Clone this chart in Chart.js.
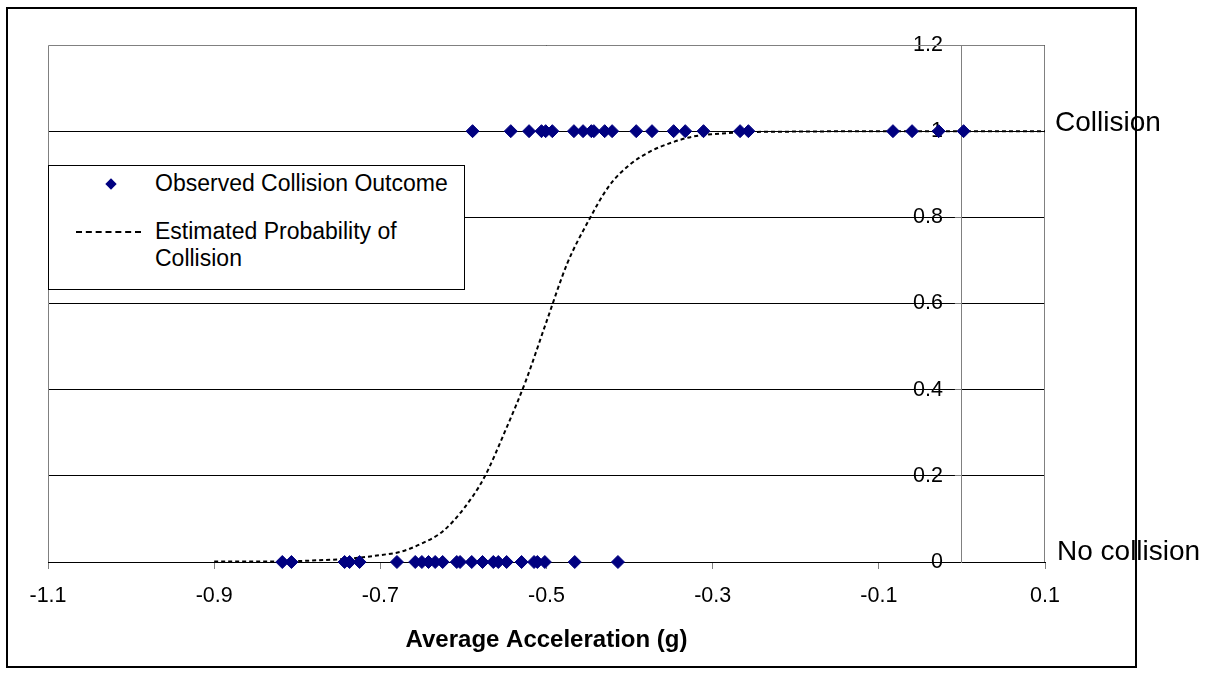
<!DOCTYPE html>
<html>
<head>
<meta charset="utf-8">
<script src="https://cdn.jsdelivr.net/npm/chart.js@4.4.1/dist/chart.umd.min.js"></script>
<style>
  html, body { margin: 0; padding: 0; background: #fff; }
  body { width: 1217px; height: 677px; position: relative; overflow: hidden; font-family: "Liberation Sans", Arial, sans-serif; }
  #frame { position: absolute; left: 6px; top: 7px; width: 1127px; height: 657px; border: 2px solid #000; }
  #chart { display: block; }
  .side-label { position: absolute; font-size: 28px; line-height: 28px; color: #000; white-space: nowrap; }
  #legend { position: absolute; left: 48px; top: 165px; width: 417px; height: 125px; box-sizing: border-box; border: 1px solid #000; background: #fff; }
  .legend-row { position: absolute; left: 0; right: 0; }
  .legend-text { position: absolute; left: 106px; font-size: 23px; line-height: 27px; color: #000; white-space: nowrap; }
  .legend-diamond { position: absolute; width: 8px; height: 8px; background: #000080; transform: rotate(45deg); }
  .legend-dash { position: absolute; height: 0; border-top: 2px dashed #000; }
</style>
</head>
<body>
<div id="frame"><canvas id="chart" width="1127" height="657"></canvas></div>
<div id="legend"></div>
<div class="side-label" style="left:1055px; top:108px;">Collision</div>
<div class="side-label" style="left:1057px; top:537px;">No collision</div>
<script>
const xTickValues = [-1.1, -0.9, -0.7, -0.5, -0.3, -0.1, 0.1];
const xTickLabels = ['-1.1', '-0.9', '-0.7', '-0.5', '-0.3', '-0.1', '0.1'];
const yTickValues = [0, 0.2, 0.4, 0.6, 0.8, 1, 1.2];
const yTickLabels = ['0', '0.2', '0.4', '0.6', '0.8', '1', '1.2'];

// observed outcomes: acceleration (g) for collisions (1) and non-collisions (0)
const collisionX = [-0.589, -0.543, -0.521, -0.506, -0.501, -0.493, -0.467, -0.456, -0.446, -0.443,
  -0.430, -0.421, -0.392, -0.373, -0.347, -0.333, -0.311, -0.267, -0.257, -0.083, -0.060, -0.028, 0.002];
const noCollisionX = [-0.818, -0.807, -0.743, -0.737, -0.725, -0.680, -0.658, -0.650, -0.642, -0.634,
  -0.625, -0.608, -0.604, -0.590, -0.577, -0.564, -0.558, -0.548, -0.530, -0.515, -0.511, -0.502, -0.466, -0.414];

// estimated probability curve
const curveX = [-0.9, -0.85, -0.8, -0.775, -0.75, -0.725, -0.7, -0.675, -0.65, -0.625, -0.6, -0.575, -0.55,
  -0.525, -0.5, -0.475, -0.45, -0.425, -0.4, -0.375, -0.35, -0.325, -0.3, -0.25, -0.2, -0.1, 0, 0.1];
const curveP = [0.001, 0.001, 0.002, 0.004, 0.006, 0.010, 0.016, 0.024, 0.043, 0.071, 0.123, 0.196, 0.303,
  0.42, 0.558, 0.693, 0.79, 0.872, 0.922, 0.953, 0.973, 0.987, 0.993, 0.998, 0.999, 1, 1, 1];

const seriesLabels = ['Observed Collision Outcome', 'Estimated Probability of Collision'];
const yAxisCrossing = 0;

const observed = collisionX.map((x) => ({ x, y: 1 })).concat(noCollisionX.map((x) => ({ x, y: 0 })));
const curve = curveX.map((x, i) => ({ x, y: curveP[i] }));

// y axis sits at x = 0 instead of the left edge
const crossAxis = {
  id: 'crossAxis',
  afterLayout(chart) {
    const px = chart.scales.x.getPixelForValue(yAxisCrossing);
    chart.scales.y.left = 0;
    chart.scales.y.right = px;
  },
};

const plotBorder = {
  id: 'plotBorder',
  beforeDatasetsDraw(chart) {
    const { ctx, chartArea: a } = chart;
    ctx.save();
    ctx.strokeStyle = '#808080';
    ctx.lineWidth = 1;
    ctx.beginPath();
    ctx.moveTo(a.left + 0.5, a.bottom);
    ctx.lineTo(a.left + 0.5, a.top + 0.5);
    ctx.lineTo(a.right - 0.5, a.top + 0.5);
    ctx.lineTo(a.right - 0.5, a.bottom);
    ctx.stroke();
    ctx.restore();
  },
};

Chart.defaults.font.family = '"Liberation Sans", Arial, sans-serif';
Chart.defaults.color = '#000';

const chart = new Chart(document.getElementById('chart'), {
  type: 'scatter',
  data: {
    datasets: [{
      label: seriesLabels[0],
      data: observed,
      pointStyle: 'rectRot',
      pointRadius: 6.5,
      pointHoverRadius: 6.5,
      backgroundColor: '#000080',
      borderColor: '#000080',
      borderWidth: 1,
      clip: false,
    }, {
      label: seriesLabels[1],
      data: curve,
      showLine: true,
      borderColor: '#000',
      borderWidth: 2,
      borderDash: [4, 3],
      pointRadius: 0,
      cubicInterpolationMode: 'monotone',
      clip: false,
    }],
  },
  options: {
    responsive: false,
    animation: false,
    events: [],
    layout: { padding: { left: 40, top: 36, right: 90, bottom: 0 } },
    plugins: { legend: { display: false }, tooltip: { enabled: false } },
    scales: {
      x: {
        type: 'linear',
        position: 'bottom',
        min: -1.1,
        max: 0.1,
        afterBuildTicks: (scale) => { scale.ticks = xTickValues.map((value) => ({ value })); },
        afterFit: (scale) => { scale.height = 104; },
        ticks: {
          font: { size: 21.5 },
          padding: 14,
          maxRotation: 0,
          callback: (value, index) => xTickLabels[index],
        },
        grid: { drawOnChartArea: false, drawTicks: true, tickLength: 7, tickColor: '#808080' },
        border: { color: '#000', width: 1 },
        title: {
          display: true,
          text: 'Average Acceleration (g)',
          font: { size: 24, weight: 'bold' },
          padding: { top: 4, bottom: 11 },
        },
      },
      y: {
        type: 'linear',
        position: 'left',
        min: 0,
        max: 1.2,
        afterBuildTicks: (scale) => { scale.ticks = yTickValues.map((value) => ({ value })); },
        afterFit: (scale) => { scale.width = 0; },
        ticks: {
          font: { size: 21.5 },
          padding: 12,
          callback: (value, index) => yTickLabels[index],
        },
        grid: { color: '#000', lineWidth: 1, tickLength: 7, tickColor: '#808080' },
        border: { color: '#808080', width: 1 },
      },
    },
  },
  plugins: [crossAxis, plotBorder],
});

// boxed legend inside the plot, built from the dataset labels
function buildLegend() {
  const legend = document.getElementById('legend');
  const rows = [
    { top: 4, marker: 'diamond', text: seriesLabels[0] },
    { top: 52, marker: 'dash', text: 'Estimated Probability of<br>Collision' },
  ];
  rows.forEach((row) => {
    const el = document.createElement('div');
    el.className = 'legend-row';
    el.style.top = `${row.top}px`;
    const marker = row.marker === 'diamond'
      ? '<div class="legend-diamond" style="left:58px; top:10px;"></div>'
      : '<div class="legend-dash" style="left:27px; width:65px; top:13px;"></div>';
    el.innerHTML = `${marker}<div class="legend-text">${row.text}</div>`;
    legend.appendChild(el);
  });
}

buildLegend();
</script>
</body>
</html>
